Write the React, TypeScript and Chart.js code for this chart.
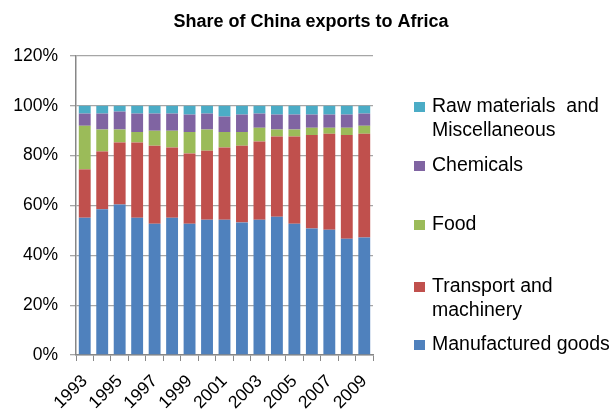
import React, { useEffect, useRef } from "react";
import { Chart, registerables } from "chart.js";

Chart.register(...registerables);

const years = ["1993","1994","1995","1996","1997","1998","1999","2000","2001","2002","2003","2004","2005","2006","2007","2008","2009"];
const manufactured = [55.1, 58.5, 60.4, 55.1, 52.7, 55.1, 52.7, 54.3, 54.3, 53.2, 54.3, 55.5, 52.7, 50.8, 50.3, 46.7, 47.2];
const transport = [19.4, 23.2, 24.9, 30.2, 31.3, 28.2, 28.2, 27.7, 29.0, 30.8, 31.4, 32.2, 35.0, 37.5, 38.5, 41.6, 41.6];
const food = [17.5, 8.8, 5.2, 4.2, 6.0, 6.7, 8.6, 8.5, 6.2, 5.5, 5.5, 2.8, 2.8, 2.9, 2.4, 2.9, 3.2];
const chemicals = [4.9, 6.4, 7.2, 7.4, 6.9, 6.9, 7.0, 6.4, 6.2, 7.0, 5.7, 6.0, 6.0, 5.3, 5.3, 5.3, 4.9];
const rawMisc = [3.1, 3.1, 2.3, 3.1, 3.1, 3.1, 3.5, 3.1, 4.3, 3.5, 3.1, 3.5, 3.5, 3.5, 3.5, 3.5, 3.1];

const titleText = "Share of China exports to Africa";
const seriesNames = ["Manufactured goods", "Transport and machinery", "Food", "Chemicals", "Raw materials  and Miscellaneous"];
const colors = ["#4F81BD", "#C0504D", "#9BBB59", "#8064A2", "#4BACC6"];

// legend layout: [series index, lines, center y of first line]
const legendItems: [number, string[], number][] = [
  [4, ["Raw materials  and", "Miscellaneous"], 107],
  [3, ["Chemicals"], 166],
  [2, ["Food"], 225],
  [1, ["Transport and", "machinery"], 287],
  [0, ["Manufactured goods"], 345],
];

const FONT = "'Liberation Sans', Arial, sans-serif";

const overlayPlugin = {
  id: "overlay",
  afterDraw(chart: any) {
    const ctx = chart.ctx;
    ctx.save();
    ctx.fillStyle = "#000";
    ctx.font = `bold 18px ${FONT}`;
    ctx.textAlign = "center";
    ctx.textBaseline = "alphabetic";
    ctx.fillText(titleText, 311, 27);

    ctx.font = `19.5px ${FONT}`;
    ctx.textAlign = "left";
    ctx.textBaseline = "middle";
    for (const [idx, lines, y] of legendItems) {
      ctx.fillStyle = colors[idx];
      ctx.fillRect(414, y - 5, 11, 10);
      ctx.fillStyle = "#000";
      lines.forEach((ln, i) => ctx.fillText(ln, 432, y + i * 23.5));
    }
    ctx.restore();
  },
};

export default function App() {
  const ref = useRef<HTMLCanvasElement | null>(null);
  useEffect(() => {
    document.body.style.margin = "0";
    const series = [manufactured, transport, food, chemicals, rawMisc];
    const chart = new Chart(ref.current as HTMLCanvasElement, {
      type: "bar",
      data: {
        labels: years,
        datasets: series.map((d, i) => ({
          label: seriesNames[i],
          data: d,
          backgroundColor: colors[i],
          borderWidth: 0,
          barPercentage: 0.68,
          categoryPercentage: 1,
        })),
      },
      options: {
        animation: false,
        responsive: true,
        maintainAspectRatio: false,
        layout: { padding: { top: 56, right: 241, left: 0, bottom: 0 } },
        plugins: {
          legend: { display: false },
          title: { display: false },
          tooltip: { enabled: false },
        },
        scales: {
          x: {
            stacked: true,
            grid: {
              display: true,
              drawOnChartArea: false,
              offset: true,
              color: "#888888",
              tickLength: 6,
            },
            border: { color: "#878787", width: 1.5 },
            ticks: {
              autoSkip: false,
              maxRotation: 45,
              minRotation: 45,
              padding: 10,
              color: "#000",
              font: { family: FONT, size: 17.5 },
              callback: (_v: any, i: number) => (i % 2 === 0 ? years[i] : ""),
            },
            afterFit: (s: any) => {
              s.height = 63;
            },
          },
          y: {
            stacked: true,
            min: 0,
            max: 120,
            grid: {
              color: "#A6A6A6",
              lineWidth: 1.3,
              tickLength: 6,
            },
            border: { color: "#878787", width: 1.5 },
            ticks: {
              stepSize: 20,
              padding: 12,
              color: "#000",
              font: { family: FONT, size: 17.5 },
              callback: (v: any) => `${v}%`,
            },
            afterFit: (s: any) => {
              s.width = 76;
            },
          },
        },
      },
      plugins: [overlayPlugin],
    });
    return () => chart.destroy();
  }, []);
  return (
    <div style={{ position: "relative", width: 614, height: 418 }}>
      <canvas ref={ref} />
    </div>
  );
}
